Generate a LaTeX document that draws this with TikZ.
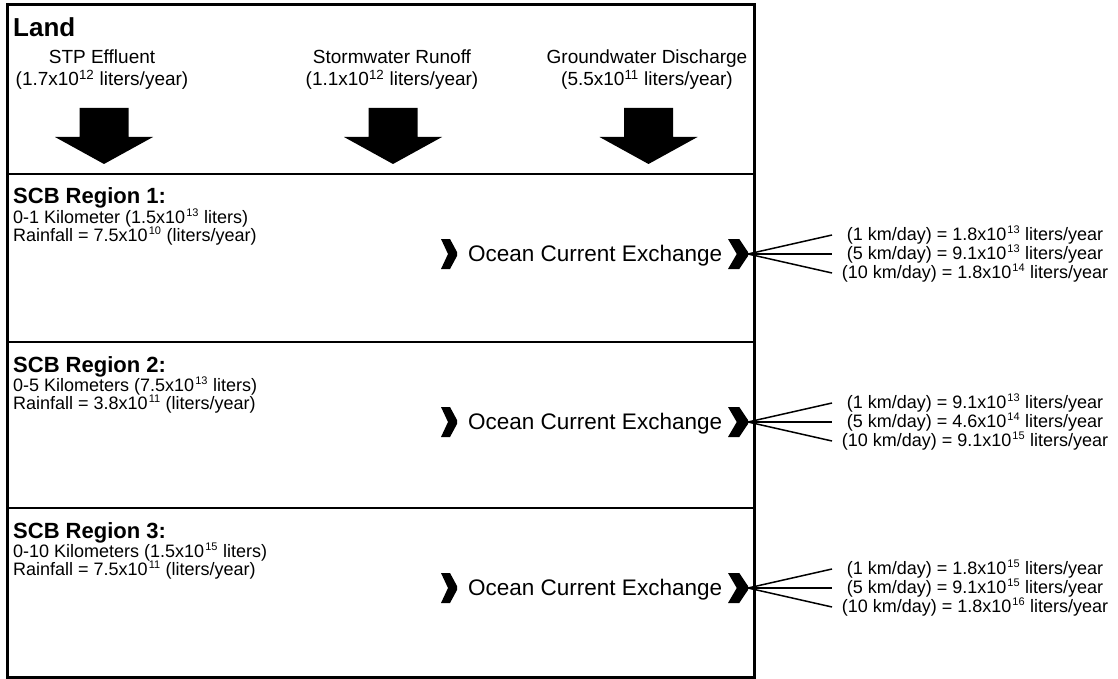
\documentclass[tikz,border=0pt]{standalone}
\usepackage{fontspec}
\setmainfont{Liberation Sans}
\usepackage{tikz}
\usetikzlibrary{positioning}
\newcommand{\expo}[1]{\textsuperscript{\fontsize{11}{11}\selectfont #1}}
\tikzset{land title/.style={font=\bfseries\fontsize{26}{30}\selectfont,anchor=base west,inner sep=0pt},
	source/.style={font=\fontsize{19}{22}\selectfont,align=center,anchor=north,inner sep=0pt},
	region title/.style={font=\bfseries\fontsize{22}{26}\selectfont,anchor=base west,inner sep=0pt},
	region info/.style={font=\fontsize{18}{18}\selectfont,anchor=base west,inner sep=0pt},
	exchange/.style={font=\fontsize{22.5}{27}\selectfont,anchor=base west,inner sep=0pt},
	rate/.style={font=\fontsize{18}{19}\selectfont,inner sep=0pt},
	fan/.style={line width=1.5pt},
	divider/.style={line width=2pt},
	flow arrow/.pic={\fill (-24.5,0) -- (24.5,0) -- (24.5,29) -- (49,29) -- (0,56) -- (-49,29) -- (-24.5,29) -- cycle;},
	chevron/.pic={\fill (-16,-15) -- (-7,-15) -- (0,-2) -- (0,2) -- (-7,15) -- (-16,15) -- (-9,0) -- cycle;},}
\begin{document}
\begin{tikzpicture}[x=1pt,y=-1pt]
	\useasboundingbox (0,0) rectangle (1118,679);

	% land
	\node[land title] (land) at (13,37) {Land};
	\node[source] (stp) at (102,50) {STP Effluent\\(1.7x10\textsuperscript{12} liters/year)};
	\node[source] (storm) at (392,50) {Stormwater Runoff\\(1.1x10\textsuperscript{12} liters/year)};
	\node[source] (ground) at (647,50) {Groundwater Discharge\\(5.5x10\textsuperscript{11} liters/year)};
	\pic at (104,108) {flow arrow};
	\pic at (393,108) {flow arrow};
	\pic at (648.5,108) {flow arrow};

	\draw[divider] (7,174) -- (754,174);
	\draw[divider] (7,342) -- (754,342);
	\draw[divider] (7,508) -- (754,508);
	\draw[line width=3pt] (7,5) rectangle (754,677);

	% region 1
	\begin{scope}[shift={(0,174)}]
	\node[region title] (title1) at (13,30) {SCB Region 1:};
	\node[region info,below=19pt of title1.base west,anchor=base west] (depth1) {0-1 Kilometer (1.5x10\kern1pt\expo{13} liters)};
	\node[region info,below=18pt of depth1.base west,anchor=base west] (rain1) {Rainfall = 7.5x10\kern1pt\expo{10} (liters/year)};
	\node[exchange] (oce1) at (468,87) {Ocean Current Exchange};
	\pic at (457,80) {chevron};
	\pic[xscale=1.25] at (748,80) {chevron};
	\coordinate (x1) at (748,80);
	\coordinate (e1) at (832,80);
	\node[rate] (r1a) at (975,61) {(1 km/day) = 1.8x10\kern1pt\expo{13} liters/year};
	\node[rate] (r1b) at (975,80) {(5 km/day) = 9.1x10\kern1pt\expo{13} liters/year};
	\node[rate] (r1c) at (975,99) {(10 km/day) = 1.8x10\kern1pt\expo{14} liters/year};
	\path[draw,fan]
	(x1) edge (e1 |- r1a)
	(x1) edge (e1)
	(x1) edge (e1 |- r1c)
	;
	\end{scope}

	% region 2
	\begin{scope}[shift={(0,342)}]
	\node[region title] (title2) at (13,30) {SCB Region 2:};
	\node[region info,below=19pt of title2.base west,anchor=base west] (depth2) {0-5 Kilometers (7.5x10\kern1pt\expo{13} liters)};
	\node[region info,below=18pt of depth2.base west,anchor=base west] (rain2) {Rainfall = 3.8x10\kern1pt\expo{11} (liters/year)};
	\node[exchange] (oce2) at (468,87) {Ocean Current Exchange};
	\pic at (457,80) {chevron};
	\pic[xscale=1.25] at (748,80) {chevron};
	\coordinate (x2) at (748,80);
	\coordinate (e2) at (832,80);
	\node[rate] (r2a) at (975,61) {(1 km/day) = 9.1x10\kern1pt\expo{13} liters/year};
	\node[rate] (r2b) at (975,80) {(5 km/day) = 4.6x10\kern1pt\expo{14} liters/year};
	\node[rate] (r2c) at (975,99) {(10 km/day) = 9.1x10\kern1pt\expo{15} liters/year};
	\path[draw,fan]
	(x2) edge (e2 |- r2a)
	(x2) edge (e2)
	(x2) edge (e2 |- r2c)
	;
	\end{scope}

	% region 3
	\begin{scope}[shift={(0,508)}]
	\node[region title] (title3) at (13,30) {SCB Region 3:};
	\node[region info,below=19pt of title3.base west,anchor=base west] (depth3) {0-10 Kilometers (1.5x10\kern1pt\expo{15} liters)};
	\node[region info,below=18pt of depth3.base west,anchor=base west] (rain3) {Rainfall = 7.5x10\kern1pt\expo{11} (liters/year)};
	\node[exchange] (oce3) at (468,87) {Ocean Current Exchange};
	\pic at (457,80) {chevron};
	\pic[xscale=1.25] at (748,80) {chevron};
	\coordinate (x3) at (748,80);
	\coordinate (e3) at (832,80);
	\node[rate] (r3a) at (975,61) {(1 km/day) = 1.8x10\kern1pt\expo{15} liters/year};
	\node[rate] (r3b) at (975,80) {(5 km/day) = 9.1x10\kern1pt\expo{15} liters/year};
	\node[rate] (r3c) at (975,99) {(10 km/day) = 1.8x10\kern1pt\expo{16} liters/year};
	\path[draw,fan]
	(x3) edge (e3 |- r3a)
	(x3) edge (e3)
	(x3) edge (e3 |- r3c)
	;
	\end{scope}

\end{tikzpicture}
\end{document}
